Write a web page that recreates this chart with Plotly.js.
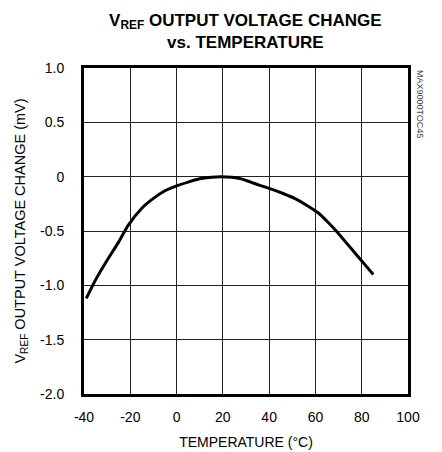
<!DOCTYPE html>
<html>
<head>
<meta charset="utf-8">
<script src="https://cdn.plot.ly/plotly-3.0.1.min.js"></script>
<style>html,body{margin:0;padding:0;background:#fff;}#chart{width:442px;height:452px;}</style>
</head>
<body>
<div id="chart"></div>
<script>
var temperature = [-39, -35, -30, -25, -21, -15, -10, -5, 0, 5, 10, 15, 19, 24, 28, 32, 36, 41, 46, 51, 56, 61, 65, 69, 73, 77, 81, 85];
var voltageChange = [-1.12, -0.95, -0.77, -0.6, -0.45, -0.29, -0.2, -0.13, -0.085, -0.05, -0.02, -0.005, 0, -0.005, -0.02, -0.05, -0.08, -0.115, -0.155, -0.2, -0.26, -0.33, -0.41, -0.5, -0.6, -0.7, -0.8, -0.9];
var xTickVals = [-40, -20, 0, 20, 40, 60, 80, 100];
var xTickText = ['-40', '-20', '0', '20', '40', '60', '80', '100'];
var yTickVals = [1, 0.5, 0, -0.5, -1, -1.5, -2];
var yTickText = ['1.0', '0.5', '0', '-0.5', '-1.0', '-1.5', '-2.0'];

var font = 'Liberation Sans, Arial, sans-serif';

var trace = {
  x: temperature,
  y: voltageChange,
  mode: 'lines',
  line: {color: '#000', width: 3, shape: 'spline', smoothing: 0.6},
  hoverinfo: 'none'
};

var layout = {
  width: 442, height: 452,
  margin: {l: 84, r: 34, t: 68, b: 58},
  paper_bgcolor: '#fff', plot_bgcolor: '#fff',
  showlegend: false,
  font: {family: font, color: '#000', size: 13},
  title: {
    text: '<b>V<sub>REF</sub> OUTPUT VOLTAGE CHANGE<br>vs. TEMPERATURE</b>',
    font: {family: font, size: 17, color: '#000'},
    x: 0.555, xanchor: 'center', yref: 'container', y: 0.943, yanchor: 'middle'
  },
  xaxis: {
    range: [-40, 100], tickvals: xTickVals, ticktext: xTickText,
    showgrid: true, gridcolor: '#222', gridwidth: 1,
    zeroline: false,
    showline: true, linecolor: '#000', linewidth: 3, mirror: true,
    ticks: 'outside', ticklen: 8, tickcolor: 'rgba(0,0,0,0)',
    tickfont: {family: font, size: 14},
    title: {text: 'TEMPERATURE (°C)', font: {family: font, size: 14}, standoff: 14}
  },
  yaxis: {
    range: [-2, 1], tickvals: yTickVals, ticktext: yTickText,
    showgrid: true, gridcolor: '#222', gridwidth: 1,
    zeroline: false,
    showline: true, linecolor: '#000', linewidth: 3, mirror: true,
    ticks: 'outside', ticklen: 14, tickcolor: 'rgba(0,0,0,0)',
    tickfont: {family: font, size: 14},
    title: {text: 'V<sub>REF</sub> OUTPUT VOLTAGE CHANGE (mV)', font: {family: font, size: 14.5}, standoff: 12}
  },
  annotations: [{
    text: 'MAX9000TOC45', xref: 'paper', yref: 'paper', x: 1.0, y: 1.0,
    xanchor: 'left', yanchor: 'top', xshift: 5, showarrow: false, textangle: 90,
    font: {family: font, size: 9, color: '#444'}
  }]
};

Plotly.newPlot('chart', [trace], layout, {staticPlot: true, displayModeBar: false});
</script>
</body>
</html>
